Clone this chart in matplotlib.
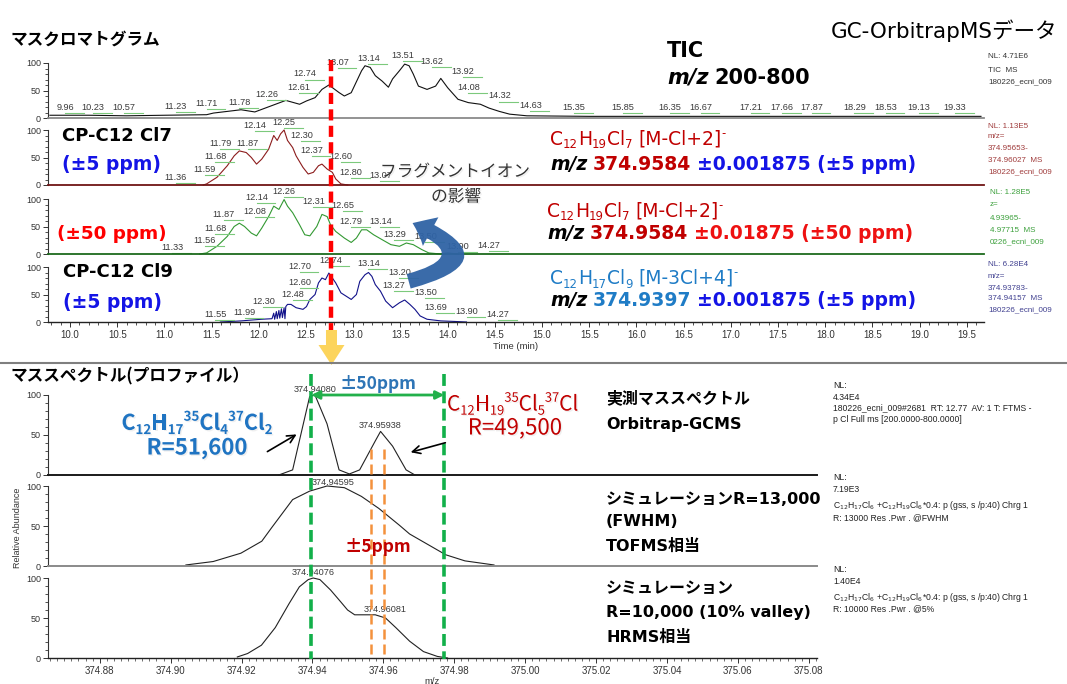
import matplotlib
matplotlib.use("Agg")
import matplotlib.pyplot as plt
import matplotlib.patheffects as pe
from matplotlib.patches import FancyArrow, FancyArrowPatch
from matplotlib.ticker import MultipleLocator, FixedLocator, FormatStrFormatter

plt.rcParams["font.family"] = ["Liberation Sans", "Noto Sans CJK JP"]
VF = ["DejaVu Sans", "Noto Sans CJK JP"]   # Verdana-like latin
JF = ["Noto Sans CJK JP", "DejaVu Sans"]   # Meiryo-like

# ---------------- chromatograms (time [min], relative abundance [%]) ----------------
tic_time = [9.787, 10.2, 10.6, 11.0, 11.447, 11.520, 11.812, 11.958, 12.177, 12.286,
            12.432, 12.505, 12.596, 12.669, 12.742, 12.852, 12.906, 12.979, 13.089, 13.125,
            13.180, 13.234, 13.307, 13.373, 13.417, 13.490, 13.545, 13.592, 13.636, 13.691,
            13.782, 13.873, 13.928, 14.001, 14.110, 14.219, 14.347, 14.439, 14.548, 14.657,
            14.840, 15.5, 16.5, 17.5, 18.5, 19.65]
tic_abund = [5, 5, 4, 5, 6, 9, 15, 11, 25, 32,
             25, 31, 37, 52, 60, 46, 40, 46, 86, 95,
             92, 77, 67, 56, 71, 86, 98, 95, 80, 58,
             52, 58, 72, 55, 34, 28, 25, 18, 12, 7,
             4, 3, 3, 3, 3, 3]

cl7_5ppm_time = [11.411, 11.447, 11.557, 11.666, 11.739, 11.794, 11.867, 11.921, 11.976, 12.031,
                 12.104, 12.158, 12.195, 12.231, 12.268, 12.304, 12.359, 12.395, 12.468, 12.523,
                 12.578, 12.632, 12.669, 12.724, 12.779, 12.815, 12.870, 12.943]
cl7_5ppm_abund = [0, 2, 14, 35, 53, 62, 59, 50, 38, 47,
                  65, 90, 81, 93, 100, 81, 68, 53, 32, 20,
                  23, 35, 38, 29, 23, 11, 2, 0]

cl7_50ppm_time = [11.374, 11.447, 11.557, 11.666, 11.739, 11.794, 11.849, 11.921, 11.976, 12.031,
                  12.104, 12.158, 12.213, 12.268, 12.304, 12.359, 12.432, 12.487, 12.541, 12.614,
                  12.669, 12.724, 12.760, 12.815, 12.906, 12.979, 13.034, 13.089, 13.143, 13.216,
                  13.307, 13.399, 13.490, 13.563, 13.636, 13.727, 13.800, 13.928, 14.001, 14.110]
cl7_50ppm_abund = [0, 2, 14, 32, 50, 56, 50, 38, 33, 47,
                   68, 87, 81, 99, 87, 75, 53, 35, 33, 50,
                   72, 68, 53, 41, 29, 21, 29, 44, 44, 35,
                   26, 17, 14, 20, 17, 8, 2, 0, 2, 0]

cl9_5ppm_time = [11.593, 11.812, 12.031, 12.140, 12.158, 12.168, 12.186, 12.195, 12.213, 12.222,
                 12.240, 12.250, 12.268, 12.277, 12.286, 12.304, 12.341, 12.395, 12.468, 12.505,
                 12.541, 12.596, 12.632, 12.669, 12.706, 12.742, 12.779, 12.815, 12.870, 12.925,
                 12.979, 13.034, 13.070, 13.125, 13.162, 13.198, 13.234, 13.289, 13.344, 13.417,
                 13.490, 13.545, 13.600, 13.654, 13.709, 13.782, 13.928, 14.073, 14.2]
cl9_5ppm_abund = [0, 2, 5, 6, 16, 5, 19, 6, 21, 7,
                  24, 8, 26, 6, 28, 32, 32, 26, 23, 28,
                  41, 50, 71, 80, 77, 89, 80, 71, 53, 47,
                  41, 50, 74, 86, 90, 83, 68, 56, 38, 26,
                  35, 40, 32, 23, 11, 5, 2, 1, 0]

# peak labels (text) and where they sit
tic_peaks = ["9.96", "10.23", "10.57", "11.23", "11.71", "11.78", "12.26", "12.61", "12.74",
             "13.07", "13.14", "13.51", "13.62", "13.92", "14.08", "14.32", "14.63", "15.35",
             "15.85", "16.35", "16.67", "17.21", "17.66", "17.87", "18.29", "18.53", "19.13", "19.33"]
tic_lab_x = [9.951, 10.244, 10.572, 11.119, 11.447, 11.793, 12.086, 12.425, 12.487,
             12.834, 13.162, 13.526, 13.837, 14.165, 14.219, 14.548, 14.876, 15.339,
             15.858, 16.356, 16.679, 17.209, 17.542, 17.855, 18.310, 18.639, 18.993, 19.375]
tic_lab_y = [20, 20, 20, 21.5, 26, 29, 42, 56, 80,
             101, 109, 114, 102, 85, 56, 40, 22, 20,
             20, 20, 20, 20, 20, 20, 20, 20, 20, 20]

cl7_5_peaks = ["11.36", "11.59", "11.68", "11.79", "11.87", "12.14", "12.25", "12.30", "12.37",
               "12.60", "12.80", "13.07"]
cl7_5_lab_x = [11.119, 11.429, 11.538, 11.593, 11.885, 11.958, 12.268, 12.450, 12.559,
               12.870, 12.979, 13.289]
cl7_5_lab_y = [14, 29, 51.5, 76, 76, 108, 114, 90, 62, 52, 23, 17]

cl7_50_peaks = ["11.33", "11.56", "11.68", "11.87", "12.08", "12.14", "12.26", "12.31", "12.65",
                "12.79", "13.14", "13.29", "13.50", "13.90", "14.27"]
cl7_50_lab_x = [11.082, 11.429, 11.538, 11.629, 11.958, 11.976, 12.268, 12.578, 12.888,
                12.979, 13.289, 13.435, 13.764, 14.110, 14.439]
cl7_50_lab_y = [12, 24, 47, 71.5, 77.6, 102, 114, 96, 88, 59, 59, 35, 32, 14, 15]

cl9_5_peaks = ["11.55", "11.99", "12.30", "12.48", "12.60", "12.70", "12.74", "13.14", "13.20",
               "13.27", "13.50", "13.69", "13.90", "14.27"]
cl9_5_lab_x = [11.538, 11.849, 12.049, 12.359, 12.432, 12.432, 12.760, 13.162, 13.490,
               13.435, 13.764, 13.873, 14.201, 14.530]
cl9_5_lab_y = [14, 17, 38, 50, 71, 101, 111, 106, 90, 66, 53, 26, 20, 14]

# ---------------- mass spectra (m/z, relative abundance [%]) ----------------
meas_mz = [374.9305, 374.9344, 374.9392, 374.9407, 374.9441, 374.9475, 374.9504, 374.9533,
           374.9577, 374.9592, 374.9626, 374.9664, 374.9689]
meas_abund = [0, 6.4, 98, 100, 64, 6.4, 1.3, 6.4, 42.5, 54.5, 36, 6.4, 0]

sim13k_mz = [374.9043, 374.9120, 374.9198, 374.9257, 374.9285, 374.9344, 374.9392, 374.9441,
             374.9490, 374.9538, 374.9587, 374.9645, 374.9674, 374.9776, 374.9830, 374.9912]
sim13k_abund = [1.3, 5.6, 16, 31, 48, 83, 93.6, 100, 97.9, 87, 72, 51, 40, 14, 6.4, 1.3]

sim10k_mz = [374.9188, 374.9217, 374.9256, 374.9295, 374.9334, 374.9363, 374.9388, 374.9402,
             374.9421, 374.9451, 374.9480, 374.9499, 374.9519, 374.9577, 374.9606, 374.9635,
             374.9674, 374.9713, 374.9752, 374.9781]
sim10k_abund = [1.3, 5.6, 16, 38, 68, 89, 98, 100, 98, 85, 70, 60, 54, 54, 50, 38, 21, 8, 2, 0]

meas_peaks = ["374.94080", "374.95938"]
meas_lab_x = [374.9407, 374.9592]
meas_lab_y = [107, 62]
sim13k_peaks = ["374.94595"]
sim13k_lab_x = [374.9458]
sim13k_lab_y = [104]
sim10k_peaks = ["374.94076", "374.96081"]
sim10k_lab_x = [374.9401, 374.9606]
sim10k_lab_y = [107, 60]

target_mz = 374.9584
win_5ppm = 0.001875
win_50ppm = 0.01875
scan_rt = 12.77

# ---------------- layout ----------------
W, H = 1067, 684
fig = plt.figure(figsize=(W / 100, H / 100), dpi=100)
renderer = fig.canvas.get_renderer()


def px_box(l, t, r, b):
    return [l / W, 1 - b / H, (r - l) / W, (b - t) / H]


def style_panel(ax, base_color, base_lw=1.2):
    for s in ("top", "right"):
        ax.spines[s].set_visible(False)
    ax.spines["left"].set_color("#333333")
    ax.spines["left"].set_linewidth(0.8)
    ax.spines["bottom"].set_color(base_color)
    ax.spines["bottom"].set_linewidth(base_lw)
    ax.set_ylim(0, 100)
    ax.yaxis.set_major_locator(FixedLocator([0, 50, 100]))
    ax.yaxis.set_minor_locator(MultipleLocator(10))
    ax.tick_params(axis="y", which="major", length=3.5, width=0.7, labelsize=6.5, pad=1.5,
                   colors="#333333")
    ax.tick_params(axis="y", which="minor", length=2, width=0.6, colors="#333333")
    ax.patch.set_alpha(0)


def peak_labels(ax, names, xs, ys, dx, dy=-10):
    for name, x, y in zip(names, xs, ys):
        ax.text(x, y, name, fontsize=6.6, ha="center", va="center", color="#3a3a3a")
        if dx:
            ax.plot([x, x + dx], [y + dy, y + dy], color="#7cc97c", lw=0.8, clip_on=False)


chrom_zero = [118, 185, 254, 322]
chrom_data = [(tic_time, tic_abund), (cl7_5ppm_time, cl7_5ppm_abund),
              (cl7_50ppm_time, cl7_50ppm_abund), (cl9_5ppm_time, cl9_5ppm_abund)]
chrom_labels = [(tic_peaks, tic_lab_x, tic_lab_y), (cl7_5_peaks, cl7_5_lab_x, cl7_5_lab_y),
                (cl7_50_peaks, cl7_50_lab_x, cl7_50_lab_y), (cl9_5_peaks, cl9_5_lab_x, cl9_5_lab_y)]
trace_colors = ["#111111", "#8c1c1c", "#339933", "#12128a"]
base_colors = ["#8a8a8a", "#701515", "#1c6a1c", "#222222"]

chrom_axes = []
for i, z in enumerate(chrom_zero):
    ax = fig.add_axes(px_box(48, z - 55, 984, z))
    t, a = chrom_data[i]
    ax.plot(t, a, color=trace_colors[i], lw=0.8, clip_on=False)
    ax.set_xlim(9.767, 19.682)
    style_panel(ax, base_colors[i], 1.0 if i == 3 else 1.3)
    names, lx, ly = chrom_labels[i]
    peak_labels(ax, names, lx, ly, dx=0.2)
    if i < 3:
        ax.tick_params(axis="x", which="both", bottom=False, labelbottom=False)
    else:
        ax.xaxis.set_major_locator(MultipleLocator(0.5))
        ax.xaxis.set_minor_locator(MultipleLocator(0.1))
        ax.xaxis.set_major_formatter(FormatStrFormatter("%.1f"))
        ax.tick_params(axis="x", which="major", length=3.5, width=0.7, labelsize=7,
                       colors="#333333", pad=2)
        ax.tick_params(axis="x", which="minor", length=2, width=0.6, colors="#333333")
        ax.set_xlabel("Time (min)", fontsize=6.8, labelpad=2, color="#333333")
    chrom_axes.append(ax)

spec_zero = [475, 566, 658]
spec_data = [(meas_mz, meas_abund), (sim13k_mz, sim13k_abund), (sim10k_mz, sim10k_abund)]
spec_labels = [(meas_peaks, meas_lab_x, meas_lab_y), (sim13k_peaks, sim13k_lab_x, sim13k_lab_y),
               (sim10k_peaks, sim10k_lab_x, sim10k_lab_y)]
spec_base = ["#1a1a1a", "#8a8a8a", "#222222"]
spec_axes = []
for i, z in enumerate(spec_zero):
    ax = fig.add_axes(px_box(48, z - 80, 817, z))
    m, a = spec_data[i]
    ax.plot(m, a, color="#222222", lw=0.8, clip_on=False)
    ax.set_xlim(374.8654, 375.0823)
    style_panel(ax, spec_base[i], 1.0 if i == 2 else 1.4)
    names, lx, ly = spec_labels[i]
    peak_labels(ax, names, lx, ly, dx=0)
    if i < 2:
        ax.tick_params(axis="x", which="both", bottom=False, labelbottom=False)
    else:
        ax.xaxis.set_major_locator(MultipleLocator(0.02))
        ax.xaxis.set_minor_locator(MultipleLocator(0.002))
        ax.xaxis.set_major_formatter(FormatStrFormatter("%.2f"))
        ax.tick_params(axis="x", which="major", length=3.5, width=0.7, labelsize=7,
                       colors="#333333", pad=2)
        ax.tick_params(axis="x", which="minor", length=2, width=0.5, colors="#333333")
        ax.set_xlabel("m/z", fontsize=6.8, labelpad=1, color="#333333")
    spec_axes.append(ax)

# overlay in pixel coordinates for annotations
ov = fig.add_axes([0, 0, 1, 1])
ov.set_xlim(0, W)
ov.set_ylim(H, 0)
ov.axis("off")
ov.set_zorder(10)
ov.patch.set_alpha(0)

shadow = [pe.withSimplePatchShadow(offset=(1.0, -1.0), shadow_rgbFace="#aaaaaa", alpha=0.18)]


def rich(x, y, parts, size, ha="left", **kw):
    em = size * 100 / 72
    base = y + 0.36 * em
    pieces, cx = [], 0.0
    for s, c, kind in parts:
        if kind == "gap":
            cx += 0.3 * em
            continue
        fs = size * 0.62 if kind in ("sub", "sup") else size
        dy = {"sub": 0.2 * em, "sup": -0.42 * em}.get(kind, 0.0)
        opts = dict(kw)
        if kind == "it":
            opts["family"] = "DejaVu Sans"
            opts["style"] = "italic"
        t = ov.text(x + cx, base + dy, s, color=c, fontsize=fs, ha="left", va="baseline", **opts)
        cx += t.get_window_extent(renderer).width
        pieces.append(t)
    if ha == "center":
        for t in pieces:
            x0, y0 = t.get_position()
            t.set_position((x0 - cx / 2, y0))
    return pieces


def formula(elems, color):
    return [(s, color, kind) for kind, s in elems]


# separator between chromatograms and spectra
ov.plot([0, W], [363, 363], color="#7f7f7f", lw=1.5)

# titles
ov.text(10, 40, "マスクロマトグラム", fontsize=12, weight="bold", family=JF, va="center")
ov.text(1057, 31, "GC-OrbitrapMSデータ", fontsize=15.5, family=VF, ha="right", va="center")
ov.text(10, 376, "マススペクトル(プロファイル）", fontsize=12, weight="bold", family=JF, va="center")

# TIC header
ov.text(667, 51, "TIC", fontsize=15, weight="bold", family=VF, va="center")
rich(667, 76, [("m/z", "black", "it"), ("", None, "gap"), ("200-800", "black", "n")], 15,
     weight="bold", family=VF)

# left panel captions
ov.text(62, 136, "CP-C12 Cl7", fontsize=13, weight="bold", family=VF, va="center")
ov.text(62, 165, "(±5 ppm)", fontsize=13.5, weight="bold", family=VF, va="center", color="#1414e6")
ov.text(57, 234, "(±50 ppm)", fontsize=13.2, weight="bold", family=VF, va="center", color="#ff0000")
ov.text(63, 272, "CP-C12 Cl9", fontsize=13, weight="bold", family=VF, va="center")
ov.text(63, 302, "(±5 ppm)", fontsize=13.5, weight="bold", family=VF, va="center", color="#1414e6")

# right formulas
DR, RD, BL, LB = "#c00000", "#ee1111", "#1414e6", "#1f7cc6"
cl7_formula = [("n", "C"), ("sub", "12"), ("n", "H"), ("sub", "19"), ("n", "Cl"), ("sub", "7"),
               ("gap", ""), ("n", "[M-Cl+2]"), ("sup", "-")]
cl9_formula = [("n", "C"), ("sub", "12"), ("n", "H"), ("sub", "17"), ("n", "Cl"), ("sub", "9"),
               ("gap", ""), ("n", "[M-3Cl+4]"), ("sup", "-")]
rich(550, 138, formula(cl7_formula, DR), 13.5, family=VF)
rich(550, 163, [("m/z", "black", "it"), ("", None, "gap"), ("374.9584", DR, "n"),
                ("", None, "gap"), ("±0.001875 (±5 ppm)", BL, "n")], 13.5, weight="bold", family=VF)
rich(547, 210, formula(cl7_formula, DR), 13.5, family=VF)
rich(547, 232, [("m/z", "black", "it"), ("", None, "gap"), ("374.9584", DR, "n"),
                ("", None, "gap"), ("±0.01875 (±50 ppm)", RD, "n")], 13.5, weight="bold", family=VF)
rich(550, 277, formula(cl9_formula, LB), 13.5, family=VF)
rich(550, 299, [("m/z", "black", "it"), ("", None, "gap"), ("374.9397", LB, "n"),
                ("", None, "gap"), ("±0.001875 (±5 ppm)", BL, "n")], 13.5, weight="bold", family=VF)

# fragment ion note and curved arrow
ov.text(380, 172, "フラグメントイオン", fontsize=12, family=JF, va="center", color="#333333",
        path_effects=shadow)
ov.text(456, 197, "の影響", fontsize=12, family=JF, va="center", ha="center", color="#333333",
        path_effects=shadow)
ov.add_patch(FancyArrowPatch((406, 282), (410, 222), connectionstyle="arc3,rad=1.5",
                             arrowstyle="simple,head_length=0.8,head_width=1.3,tail_width=0.6",
                             mutation_scale=18, color="#2f63a5", alpha=0.95, lw=0))

# retention-time marker
x_rt = chrom_axes[3].transData.transform((scan_rt, 0))[0]
ov.plot([x_rt, x_rt], [60, 330], color="#ff0000", lw=3.2, dashes=(2.5, 1.2))
ov.add_patch(FancyArrow(x_rt, 330, 0, 35, width=11, head_width=26, head_length=20,
                        length_includes_head=True, color="#fcd45c", lw=0))

# ppm windows on the spectra
sx = spec_axes[0].transData
xl50 = sx.transform((target_mz - win_50ppm, 0))[0]
xr50 = sx.transform((target_mz + win_50ppm, 0))[0]
xl5 = sx.transform((target_mz - win_5ppm, 0))[0]
xr5 = sx.transform((target_mz + win_5ppm, 0))[0]
for xv in (xl50, xr50):
    ov.plot([xv, xv], [374, 659], color="#12b04a", lw=2.6, dashes=(3.3, 1.5))
for xv in (xl5, xr5):
    ov.plot([xv, xv], [449, 657], color="#f4913c", lw=1.8, dashes=(4, 2))
ov.annotate("", xy=(xr50, 395), xytext=(xl50, 395),
            arrowprops=dict(arrowstyle="<|-|>", color="#22b04b", lw=2, mutation_scale=12,
                            shrinkA=0, shrinkB=0))
ov.text((xl50 + xr50) / 2, 384, "±50ppm", fontsize=12.5, weight="bold", family=JF,
        ha="center", va="center", color="#2e75b6")
ov.text((xl5 + xr5) / 2, 547, "±5ppm", fontsize=12.5, weight="bold", family=JF,
        ha="center", va="center", color="#c00000")

# isotopologue annotations
blue_iso = [("n", "C"), ("sub", "12"), ("n", "H"), ("sub", "17"), ("sup", "35"), ("n", "Cl"),
            ("sub", "4"), ("sup", "37"), ("n", "Cl"), ("sub", "2")]
red_iso = [("n", "C"), ("sub", "12"), ("n", "H"), ("sub", "19"), ("sup", "35"), ("n", "Cl"),
           ("sub", "5"), ("sup", "37"), ("n", "Cl")]
rich(197, 422, formula(blue_iso, "#1f74c2"), 15.5, ha="center", weight="bold", family=JF,
     path_effects=shadow)
ov.text(197, 448, "R=51,600", fontsize=16, weight="bold", family=JF, ha="center", va="center",
        color="#1f74c2", path_effects=shadow)
rich(447, 403, formula(red_iso, "#c00000"), 15, family=JF, path_effects=shadow)
ov.text(515, 428, "R=49,500", fontsize=16, family=JF, ha="center", va="center",
        color="#c00000", path_effects=shadow)
ov.annotate("", xy=(299, 433), xytext=(265, 453),
            arrowprops=dict(arrowstyle="->", color="black", lw=1.2, mutation_scale=14))
ov.annotate("", xy=(408, 453), xytext=(448, 442),
            arrowprops=dict(arrowstyle="->", color="black", lw=1.2, mutation_scale=14))

# spectrum descriptions
for txt, yy in (("実測マススペクトル", 398), ("Orbitrap-GCMS", 424),
                ("シミュレーションR=13,000", 499), ("(FWHM)", 522), ("TOFMS相当", 546),
                ("シミュレーション", 589), ("R=10,000 (10% valley)", 612), ("HRMS相当", 637)):
    ov.text(606, yy, txt, fontsize=11.5, weight="bold", family=VF, va="center")

# Xcalibur header texts
chrom_headers = [
    (988, ["NL: 4.71E6", "TIC  MS", "180226_ecni_009"], [57, 70, 82], "#333333"),
    (988, ["NL: 1.13E5", "m/z=", "374.95653-", "374.96027  MS", "180226_ecni_009"],
     [126, 137, 149, 160, 172], "#a03c3c"),
    (990, ["NL: 1.28E5", "z=", "4.93965-", "4.97715  MS", "0226_ecni_009"],
     [193, 205, 218, 230, 242], "#3ca03c"),
    (988, ["NL: 6.28E4", "m/z=", "374.93783-", "374.94157  MS", "180226_ecni_009"],
     [264, 276, 288, 299, 310], "#404090"),
]
for xx, lines, ys, col in chrom_headers:
    for s, yy in zip(lines, ys):
        ov.text(xx, yy, s, fontsize=5.8, color=col, va="center")

sim_formula = r"C$_{12}$H$_{17}$Cl$_6$ +C$_{12}$H$_{19}$Cl$_6$*0.4: p (gss, s /p:40) Chrg 1"
spec_headers = [
    (["NL:", "4.34E4", "180226_ecni_009#2681  RT: 12.77  AV: 1 T: FTMS -",
      "p Cl Full ms [200.0000-800.0000]"], [386, 397, 408, 419]),
    (["NL:", "7.19E3", sim_formula, "R: 13000 Res .Pwr . @FWHM"], [478, 490, 506, 518]),
    (["NL:", "1.40E4", sim_formula, "R: 10000 Res .Pwr . @5%"], [570, 582, 598, 609]),
]
for lines, ys in spec_headers:
    for s, yy in zip(lines, ys):
        ov.text(833, yy, s, fontsize=6.2, color="#222222", va="center")

ov.text(18, 528, "Relative Abundance", fontsize=6.5, rotation=90, ha="center", va="center",
        color="#333333")

fig.savefig("out.png", dpi=100)
